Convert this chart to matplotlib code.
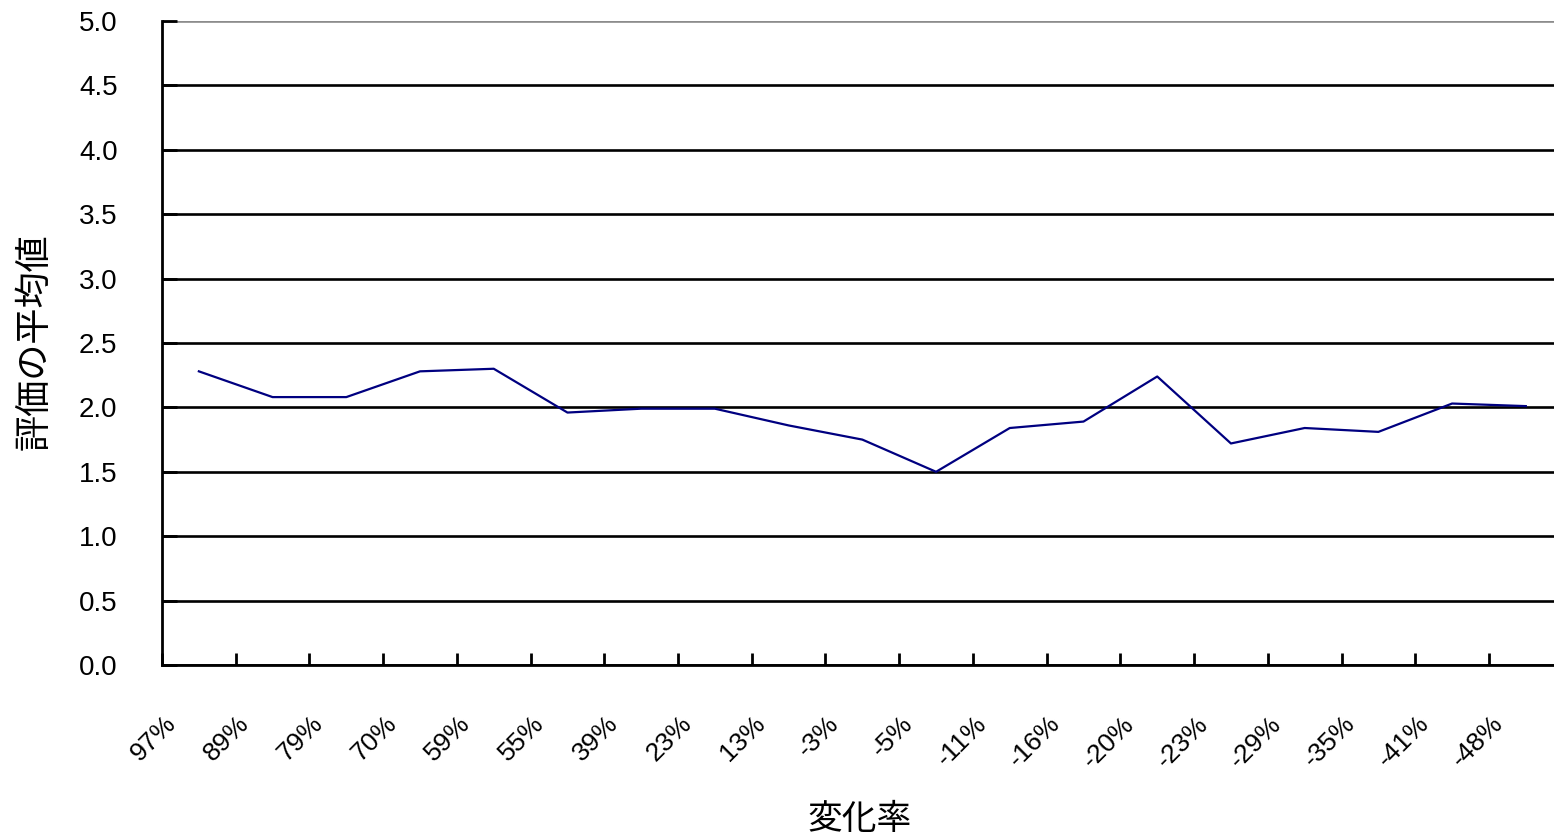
import matplotlib
matplotlib.use("Agg")
import matplotlib.pyplot as plt
import matplotlib.transforms as mtransforms

plt.rcParams['font.family'] = ['Liberation Sans', 'Noto Sans CJK JP', 'DejaVu Sans']

# data
change_labels = ['97%', '89%', '79%', '70%', '59%', '55%', '39%', '23%', '13%', '-3%',
                 '-5%', '-11%', '-16%', '-20%', '-23%', '-29%', '-35%', '-41%', '-48%']
mean_scores = [2.28, 2.08, 2.08, 2.28, 2.30, 1.96, 1.99, 1.99, 1.86, 1.75,
               1.50, 1.84, 1.89, 2.24, 1.72, 1.84, 1.81, 2.03, 2.01]
y_ticks = [0.0, 0.5, 1.0, 1.5, 2.0, 2.5, 3.0, 3.5, 4.0, 4.5, 5.0]

W, H = 1554, 840
fig = plt.figure(figsize=(W / 100, H / 100), dpi=100)
left, right, top, bottom = 162, 1554, 21, 665
ax = fig.add_axes([left / W, 1 - bottom / H, (right - left) / W, (bottom - top) / H])

cat_w = 73.72  # px per category
x = list(range(len(mean_scores)))
ax.plot(x, mean_scores, color='#000080', lw=1.6, zorder=3)

ax.set_xlim(-0.5, -0.5 + (right - left) / cat_w)
ax.set_ylim(0, 5)

# y axis
ax.set_yticks(y_ticks)
ax.set_yticklabels([f'{v:.1f}' for v in y_ticks], fontsize=20)
ax.tick_params(axis='y', direction='in', length=11, width=2, pad=32, colors='black')
ax.yaxis.grid(True, color='black', lw=1.9)
gl = ax.get_ygridlines()
gl[-1].set_color('#8c8c8c')

# x axis: ticks at category boundaries
bounds = [i - 0.5 for i in range(len(change_labels))]
ax.set_xticks(bounds)
ax.set_xticklabels(change_labels, fontsize=19, rotation=45, ha='right', va='center',
                   rotation_mode='anchor')
ax.tick_params(axis='x', direction='in', length=9, width=2, pad=0)
off = mtransforms.ScaledTranslation(0.10, -0.55, fig.dpi_scale_trans)
for lbl in ax.get_xticklabels():
    lbl.set_transform(lbl.get_transform() + off)

for s in ['top', 'right']:
    ax.spines[s].set_visible(False)
for s in ['left', 'bottom']:
    ax.spines[s].set_linewidth(2)
    ax.spines[s].set_color('black')

fig.text(35 / W, 1 - 342 / H, '評価の平均値', rotation=90, ha='center', va='center',
         fontsize=26, family=['Noto Sans CJK JP'])
fig.text(860 / W, 1 - 820 / H, '変化率', ha='center', va='center',
         fontsize=25, family=['Noto Sans CJK JP'])

fig.savefig('out.png', dpi=100, facecolor='white')
